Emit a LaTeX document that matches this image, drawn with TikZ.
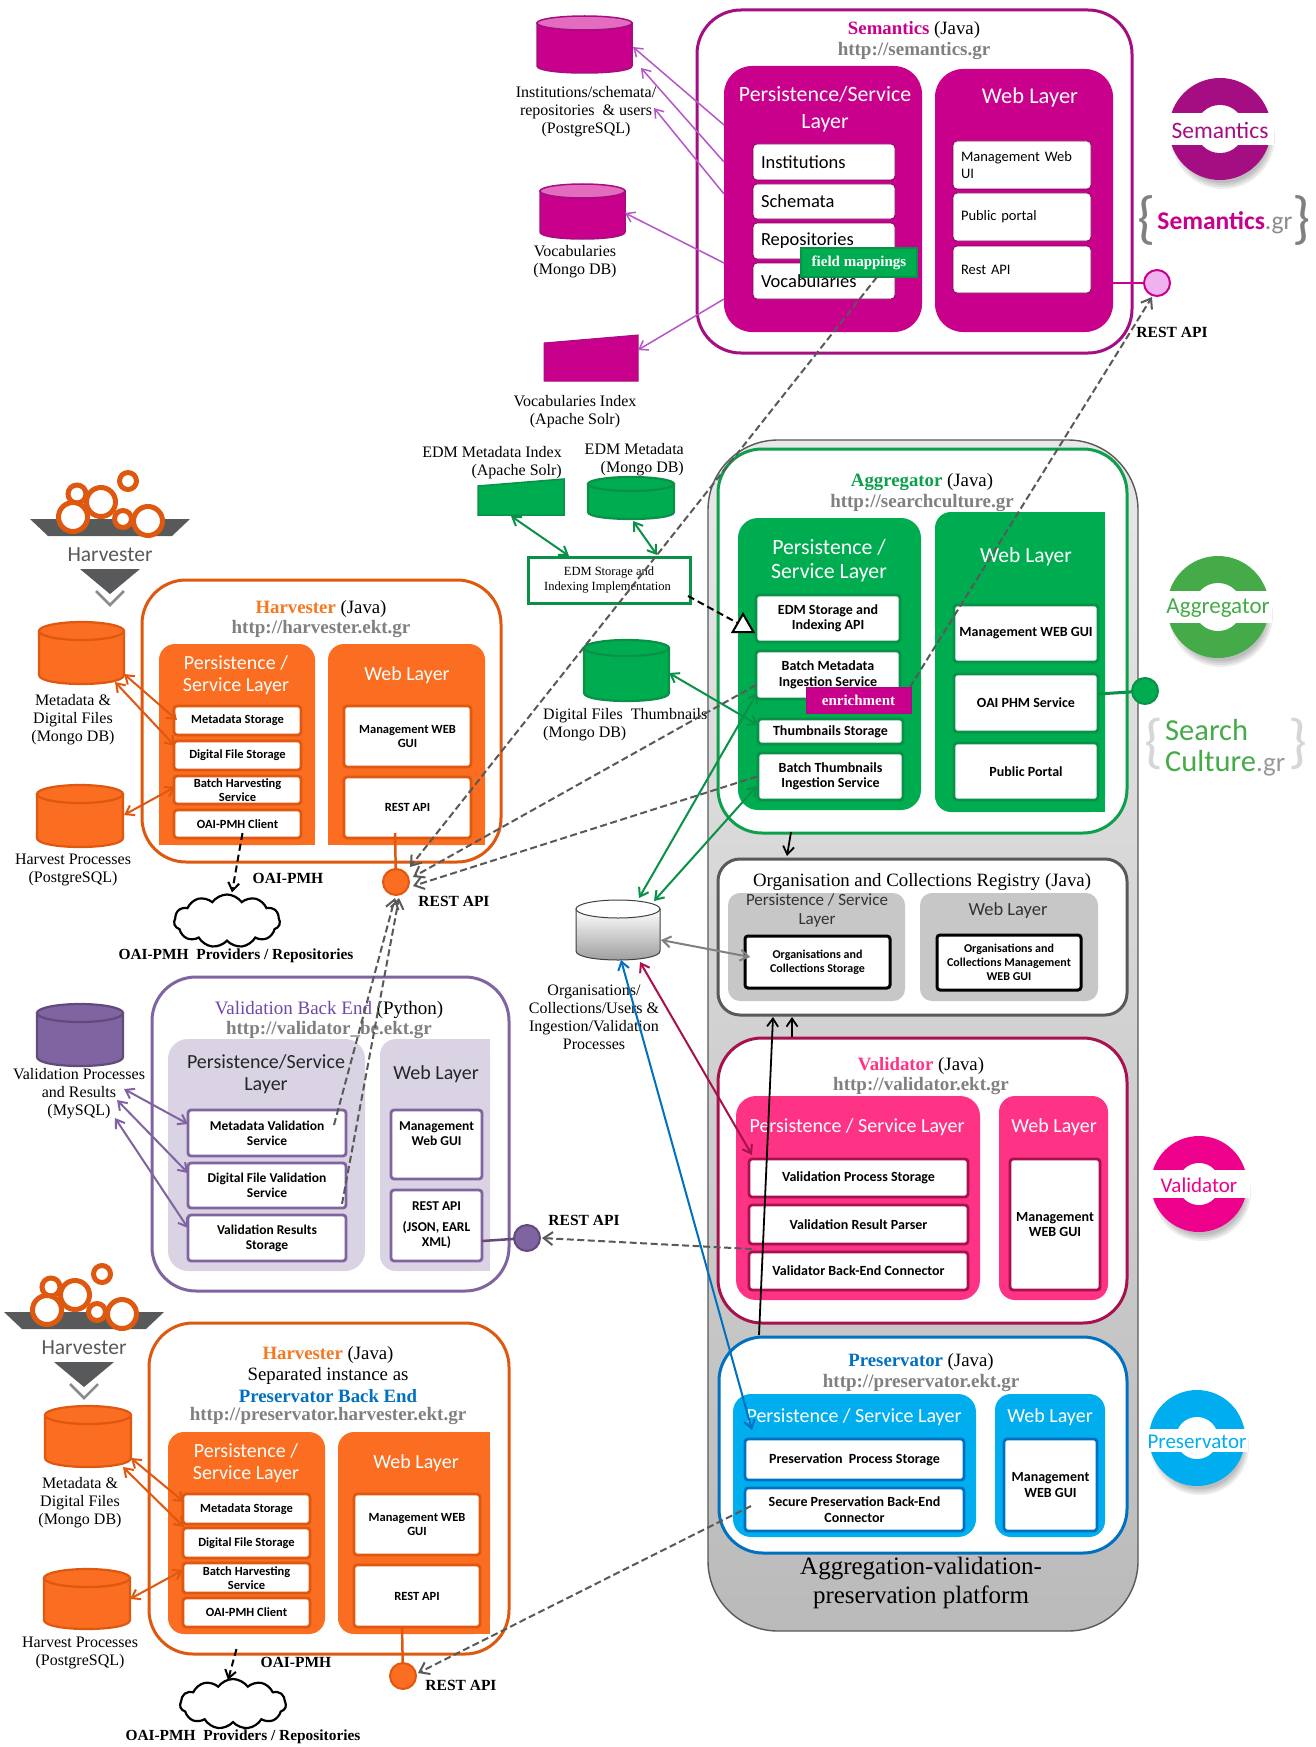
\documentclass[tikz,border=0pt]{standalone}
\usepackage{fontspec}
\setmainfont{Liberation Serif}
\newfontfamily\crl{Carlito}
\usetikzlibrary{arrows.meta,shapes.geometric,shapes.symbols}
\definecolor{semF}{HTML}{C8008C}\definecolor{semL}{HTML}{E36CBE}\definecolor{semA}{HTML}{B455C8}\definecolor{semO}{HTML}{A50E82}
\definecolor{grnF}{HTML}{00AC50}\definecolor{grnD}{HTML}{0A9148}\definecolor{grnT}{HTML}{0CA04C}\definecolor{grnLg}{HTML}{44AB48}
\definecolor{orgF}{HTML}{FB6D20}\definecolor{orgD}{HTML}{DF580F}\definecolor{orgT}{HTML}{F47920}
\definecolor{purF}{HTML}{8064A2}\definecolor{purL}{HTML}{D9D3E4}\definecolor{purT}{HTML}{7048A8}
\definecolor{valF}{HTML}{FF3385}\definecolor{valD}{HTML}{A8104E}\definecolor{valLgC}{HTML}{EC008C}
\definecolor{bluF}{HTML}{00AEEF}\definecolor{bluD}{HTML}{0070C0}
\definecolor{urlG}{HTML}{808080}\definecolor{dashG}{HTML}{595959}\definecolor{logoG}{HTML}{58595B}\definecolor{semBub}{HTML}{EFB2EF}
\newcommand\BX[7]{%
 \pgfmathsetmacro\bxw{#5-#3}\pgfmathsetmacro\bxh{#6-#4}\pgfmathsetmacro\bxx{(#3+#5)/2}\pgfmathsetmacro\bxy{(#4+#6)/2}%
 \node[#1,minimum width=\bxw pt,minimum height=\bxh pt] (#2) at (\bxx,\bxy) {#7};}
\newcommand\CYL[8]{%
 \BX{base}{#1}{#2}{#3}{#4}{#5}{}%
 \pgfmathsetmacro\cya{#3+#8}\pgfmathsetmacro\cyb{#5-#8}\pgfmathsetmacro\cyc{#5+#8/3}\pgfmathsetmacro\cxm{(#2+#4)/2}\pgfmathsetmacro\crx{(#4-#2)/2}%
 \path[#6] (#2,\cya) -- (#2,\cyb) .. controls (#2,\cyc) and (#4,\cyc) .. (#4,\cyb) -- (#4,\cya) -- cycle;
 \path[#7] (\cxm,\cya) ellipse (\crx pt and #8 pt);}
\newcommand\LOGO[9]{%
 \foreach \s in {0,2,4,6}{\fill[black,opacity=.07] (#2+3,#3+8) circle ({#4+1-\s});}
 \fill[#8] (#2,#3) circle (#4);
 \fill[white] (#2,#3) circle (#5);
 \fill[white] (#2-#4-3,#6) rectangle (#2+#4+3,#7);
 \pgfmathsetmacro\lgy{(#6+#7)/2}%
 \node[logotxt,text=#8] (#1) at (#2,\lgy) {#9};}
\newcommand\PT[3]{([xshift=#2,yshift={-(#3)}]#1)}
\newcommand\HARV[3]{%
 \begin{scope}[shift={(#1,#2)}]
 \fill[logoG] (30,519) -- (190,519) -- (172,536) -- (48,536) -- cycle;
 \draw[ring] (77,494) circle (9);
 \draw[ring] (128,481) circle (8.5);
 \draw[ring] (101,502) circle (14.5);
 \draw[ring] (73,517) circle (14.5);
 \draw[ring] (123,519) circle (8.5);
 \draw[ring] (148,521) circle (14.5);
 \node[font=\crl\fontsize{21.5}{23}\selectfont,text=logoG,inner sep=0] (#3) at (110,555) {Harvester};
 \fill[logoG] (80,569) -- (140,569) -- (110,594) -- cycle;
 \draw[logoG!70,line width=2.5pt] (96,591) -- (110,605) -- (124,591);
 \end{scope}}
\tikzset{
 base/.style={inner sep=0pt,outer sep=0pt,align=center},
 outerb/.style={base,draw=#1,line width=3pt,fill=white,rounded corners=44pt},
 layerb/.style={base,fill=#1,rounded corners=16pt},
 ibox/.style n args={3}{base,draw=#1,line width=2.8pt,fill=white,rounded corners=3pt,font=\crl\bfseries\fontsize{#2}{#3}\selectfont},
 sembox/.style={base,draw=semO!70!black,line width=.8pt,fill=white,rounded corners=4pt,align=left,inner xsep=8pt},
 ttl/.style={inner sep=0pt,align=center,yshift=-1.5pt,font=\fontsize{18.8}{21.5}\selectfont},
 urlt/.style={inner sep=0pt,text=urlG,yshift=-1pt,font=\bfseries\fontsize{19}{21}\selectfont},
 lbl/.style={inner sep=0pt,align=center,yshift=-1.5pt,font=\fontsize{16}{18}\selectfont},
 api/.style={inner sep=0pt,align=center,font=\bfseries\fontsize{15.5}{18}\selectfont},
 lay/.style n args={3}{inner sep=0pt,align=center,yshift=-1pt,text=#1,font=\crl\fontsize{#2}{#3}\selectfont},
 logotxt/.style={inner sep=0pt,yshift=-1pt,font=\crl\fontsize{21}{23}\selectfont},
 ring/.style={draw=orgD,line width=5pt,fill=white},
 conn/.style={line width=1.2pt,draw=#1},
 two/.style={line width=2pt,draw=#1,{Straight Barb[length=8pt,width=11pt]}-{Straight Barb[length=8pt,width=11pt]}},
 one/.style={line width=1.5pt,draw=#1,-{Straight Barb[length=8pt,width=11pt]}},
 dashg/.style={line width=2pt,draw=dashG,dash pattern=on 7pt off 3.5pt,-{Straight Barb[length=9pt,width=13pt]}},
 dashk/.style={line width=2pt,draw=black,dash pattern=on 7pt off 4pt},
 bub/.style n args={2}{base,circle,draw=#2,fill=#1,line width=2pt,minimum size=26pt},
}
\begin{document}
\begin{tikzpicture}[x=1pt,y=-1pt]
\useasboundingbox (0,0) rectangle (1315,1747);
\fill[white] (0,0) rectangle (1315,1747);
% ---------- platform
\BX{base,draw=dashG,line width=1.4pt,top color=black!9,bottom color=black!27,rounded corners=70pt}{plat}{708}{440}{1138}{1631}{}
\node[inner sep=0pt,align=center,font=\fontsize{25}{29}\selectfont] (platL) at (921,1583) {Aggregation-validation-\\preservation platform};
% ---------- Semantics
\BX{outerb=semO}{sem}{697}{10}{1132}{353}{}
\node[ttl] (semT) at (914,28) {{\bfseries\color{semF}Semantics} (Java)};
\node[urlt] (semU) at (914,50) {http://semantics.gr};
\BX{layerb=semF,rounded corners=28pt}{semP}{724}{66}{922}{332}{}
\BX{layerb=semF,rounded corners=28pt}{semW}{935}{69}{1113}{332}{}
\node[lay={white}{21.8}{27}] (semPl) at (825,108) {Persistence/Service\\Layer};
\node[lay={white}{22.5}{27}] (semWl) at (1030,97) {Web Layer};
\BX{sembox,text width=126pt,font=\crl\fontsize{18.5}{20}\selectfont}{sInst}{753}{144}{895}{180}{Institutions}
\BX{sembox,text width=126pt,font=\crl\fontsize{18.5}{20}\selectfont}{sSch}{753}{184}{895}{219}{Schemata}
\BX{sembox,text width=126pt,font=\crl\fontsize{18.5}{20}\selectfont}{sRep}{753}{223}{895}{259}{Repositories}
\BX{sembox,text width=126pt,font=\crl\fontsize{18.5}{20}\selectfont}{sVoc}{753}{263}{895}{299}{Vocabularies}
\BX{sembox,text width=122pt,font=\crl\fontsize{14.5}{17}\selectfont}{sMan}{953}{141}{1091}{189}{Management Web\\UI}
\BX{sembox,text width=122pt,font=\crl\fontsize{14.5}{17}\selectfont}{sPub}{953}{193}{1091}{241}{Public portal}
\BX{sembox,text width=122pt,font=\crl\fontsize{14.5}{17}\selectfont}{sRest}{953}{246}{1091}{293}{Rest API}
\BX{base,draw=grnD,line width=1.5pt,fill=grnF,text=white,font=\bfseries\fontsize{15}{17}\selectfont}{fieldM}{801}{248}{917}{277}{field mappings}
\node[bub={semBub}{semF}] (semC) at (1157,283) {};
\draw[conn=semF,line width=2.5pt] \PT{semW.east}{0}{82.5} -- (semC);
\CYL{instDB}{537}{16}{632}{73}{fill=semF,draw=semO,line width=1.5pt}{fill=semL,draw=semO,line width=1.5pt}{7}
\CYL{vocDB}{540}{184}{625}{239}{fill=semF,draw=semO,line width=1.5pt}{fill=semL,draw=semO,line width=1.5pt}{7}
\BX{base}{idxS}{544}{335}{638}{381}{}
\filldraw[fill=semF,draw=semO,line width=1pt] (544,343) -- (638,335) -- (638,381) -- (544,381) -- cycle;
\node[lbl] (instL) at (586,110) {Institutions/schemata/\\repositories \ \& users\\(PostgreSQL)};
\node[lbl] (vocL) at (575,260) {Vocabularies\\(Mongo DB)};
\node[lbl] (idxL) at (575,410) {Vocabularies Index\\(Apache Solr)};
\node[api] (semA) at (1172,332) {REST API};
\LOGO{semLg}{1220}{129}{51}{24}{113}{145}{semO}{\fontsize{23.5}{25}\selectfont Semantics}
\node[inner sep=0pt,text=black!50,font=\crl\fontsize{58}{60}\selectfont] (semB1) at (1147,220) {\makebox[0pt]{\{}};
\node[inner sep=0pt,text=black!50,font=\crl\fontsize{58}{60}\selectfont] (semB2) at (1302,220) {\makebox[0pt]{\}}};
\node[inner sep=0pt,font=\crl\fontsize{25.5}{27}\selectfont] (semGr) at (1225,223) {{\bfseries\color{semF}Semantics}{\color{black!45}.gr}};
% ---------- Aggregator
\BX{outerb=grnT}{agg}{718}{449}{1127}{833}{}
\node[ttl] (agT) at (922,481) {{\bfseries\color{grnT}Aggregator} (Java)};
\node[urlt] (agU) at (922,502) {http://searchculture.gr};
\BX{layerb=grnF,rounded corners=20pt}{agP}{738}{518}{921}{810}{}
\BX{layerb=grnF}{agW}{935}{512}{1105}{812}{}
\fill[grnF] (1020,512) rectangle (1105,812);
\node[lay={white}{21.8}{24}] (agPl) at (829,560) {Persistence /\\Service Layer};
\node[lay={white}{21.5}{24}] (agWl) at (1026,556) {Web Layer};
\BX{ibox={grnD}{14}{15.5}}{edmA}{756}{595}{900}{642}{EDM Storage and\\Indexing API}
\BX{ibox={grnD}{14}{15.5}}{batchM}{756}{651}{900}{699}{Batch Metadata\\Ingestion Service}
\BX{ibox={grnD}{14}{15.5}}{thumbS}{758}{719}{903}{744}{Thumbnails Storage}
\BX{ibox={grnD}{14}{15.5}}{batchT}{758}{753}{903}{800}{Batch Thumbnails\\Ingestion Service}
\BX{ibox={grnD}{14}{15.5}}{agM}{954}{605}{1098}{662}{Management WEB GUI}
\BX{ibox={grnD}{14}{15.5}}{agO}{954}{674}{1098}{732}{OAI PHM Service}
\BX{ibox={grnD}{14}{15.5}}{agPub}{954}{743}{1098}{800}{Public Portal}
\BX{base,fill=semF,draw=semO,line width=.6pt,text=white,font=\bfseries\fontsize{15}{17}\selectfont}{enrich}{806}{687}{911}{713}{enrichment}
\node[bub={grnF}{grnD}] (agC) at (1145,691) {};
\draw[conn=grnD,line width=3pt] \PT{agO.east}{0}{-9} -- (agC);
\BX{base}{edmI}{478}{479}{564}{515}{}
\filldraw[fill=grnF,draw=grnD,line width=1.5pt] (478,486) -- (564,479) -- (564,515) -- (478,515) -- cycle;
\CYL{edmM}{588}{477}{674}{519}{fill=grnF,draw=grnD,line width=2.2pt}{fill=grnF,draw=grnD,line width=2.2pt}{7}
\CYL{thumbDB}{584}{640}{669}{701}{fill=grnF,draw=grnD,line width=2.2pt}{fill=grnF,draw=grnD,line width=2.2pt}{8}
\BX{base,draw=grnD,line width=3pt,fill=white,font=\fontsize{12.5}{15}\selectfont}{edmS}{528}{557}{690}{603}{EDM Storage and\\Indexing Implementation\hspace*{3pt}}
\node[lbl,anchor=east,align=right] (edmIl) at (562,461) {EDM Metadata Index\\(Apache Solr)};
\node[lbl,anchor=east,align=right] (edmMl) at (684,458) {EDM Metadata\\(Mongo DB)};
\node[lbl,anchor=west,align=left] (thumbL) at (543,723) {Digital Files \ Thumbnails\\(Mongo DB)};
\LOGO{agLg}{1218}{607}{51}{24}{591}{623}{grnLg}{\fontsize{23}{25}\selectfont Aggregator}
\node[inner sep=0pt,text=black!16,font=\crl\fontsize{60}{62}\selectfont] (agB1) at (1154,744) {\makebox[0pt]{\{}};
\node[inner sep=0pt,text=black!16,font=\crl\fontsize{60}{62}\selectfont] (agB2) at (1298,744) {\makebox[0pt]{\}}};
\node[inner sep=0pt,anchor=west,align=left,text=grnLg,font=\crl\fontsize{30.5}{31}\selectfont] (agGr) at (1165,748) {Search\\Culture{\color{black!40}\fontsize{27}{31}\selectfont.gr}};
% ---------- Registry
\BX{outerb=dashG,rounded corners=22pt}{reg}{718}{859}{1127}{1015}{}
\node[ttl,font=\fontsize{18.8}{20}\selectfont] (regT) at (922,880) {Organisation and Collections Registry (Java)};
\BX{layerb=black!22,rounded corners=12pt}{regP}{728}{893}{905}{1001}{}
\BX{layerb=black!22,rounded corners=12pt}{regW}{920}{893}{1098}{1001}{}
\node[lay={black!80}{17}{19}] (regPl) at (817,909) {Persistence / Service\\Layer};
\node[lay={black!80}{18.5}{20}] (regWl) at (1008,910) {Web Layer};
\BX{ibox={black}{12}{14},line width=3pt}{orgS}{745}{936}{890}{988}{Organisations and\\Collections Storage}
\BX{ibox={black}{12}{14},line width=3pt}{orgW}{937}{935}{1081}{990}{Organisations and\\Collections Management\\WEB GUI}
% ---------- Validator
\BX{outerb=valD}{val}{718}{1038}{1127}{1323}{}
\node[ttl] (valT) at (921,1064) {{\bfseries\color{valF}Validator} (Java)};
\node[urlt] (valU) at (921,1085) {http://validator.ekt.gr};
\BX{layerb=valF,rounded corners=20pt}{valP}{736}{1096}{980}{1300}{}
\BX{layerb=valF}{valW}{999}{1096}{1108}{1300}{}
\node[lay={white}{20}{22}] (valPl) at (857,1126) {Persistence / Service Layer};
\node[lay={white}{20}{22}] (valWl) at (1054,1126) {Web Layer};
\BX{ibox={valD}{14}{15.5}}{vps}{749}{1159}{968}{1197}{Validation Process Storage}
\BX{ibox={valD}{14}{15.5}}{vrp}{749}{1205}{968}{1244}{Validation Result Parser}
\BX{ibox={valD}{14}{15.5}}{vbc}{749}{1252}{968}{1290}{Validator Back-End Connector}
\BX{ibox={valD}{14}{15.5}}{vmg}{1010}{1159}{1100}{1290}{Management\\WEB GUI}
\LOGO{valLg}{1199}{1184}{48}{21}{1170}{1198}{valLgC}{Validator}
% ---------- Preservator
\BX{outerb=bluD}{pre}{719}{1337}{1127}{1553}{}
\node[ttl] (preT) at (921,1360) {{\bfseries\color{bluD}Preservator} (Java)};
\node[urlt] (preU) at (921,1382) {http://preservator.ekt.gr};
\BX{layerb=bluF,rounded corners=18pt}{preP}{733}{1394}{976}{1537}{}
\BX{layerb=bluF}{preW}{995}{1394}{1105}{1537}{}
\node[lay={white}{20}{22}] (prePl) at (854,1416) {Persistence / Service Layer};
\node[lay={white}{20}{22}] (preWl) at (1050,1416) {Web Layer};
\BX{ibox={bluD}{14}{15.5}}{pps}{745}{1439}{964}{1480}{Preservation \ Process Storage}
\BX{ibox={bluD}{14}{15.5}}{secure}{745}{1488}{964}{1531}{Secure Preservation Back-End\\Connector}
\BX{ibox={bluD}{14}{15.5}}{pmg}{1004}{1439}{1097}{1531}{Management\\WEB GUI}
\LOGO{preLg}{1197}{1438}{48}{21}{1429}{1452}{bluF}{Preservator}
% ---------- registry DB
\CYL{regDB}{576}{900}{660}{960}{top color=white,bottom color=black!40,draw=black!75,line width=1pt}{fill=white,draw=black!75,line width=1pt}{9}
\node[lbl] (regL) at (594,1016) {Organisations/\\Collections/Users \&\\Ingestion/Validation\\Processes};
% ---------- Harvester 1
\HARV{0}{0}{harvLg}
\BX{outerb=orgD}{har}{142}{580}{501}{862}{}
\node[ttl] (harT) at (321,607) {{\bfseries\color{orgT}Harvester} (Java)};
\node[urlt] (harU) at (321,628) {http://harvester.ekt.gr};
\BX{layerb=orgF}{harP}{159}{644}{315}{845}{}
\fill[orgF] (159,700) rectangle (315,845);
\BX{layerb=orgF}{harW}{328}{644}{485}{845}{}
\fill[orgF] (328,700) rectangle (485,845);
\node[lay={white}{20}{22}] (harPl) at (236,674) {Persistence /\\Service Layer};
\node[lay={white}{20}{22}] (harWl) at (407,674) {Web Layer};
\BX{ibox={orgD}{12.5}{14}}{h1a}{174}{706}{301}{735}{Metadata Storage}
\BX{ibox={orgD}{12.5}{14}}{h1b}{174}{741}{301}{770}{Digital File Storage}
\BX{ibox={orgD}{12.5}{14}}{h1c}{174}{776}{301}{804}{Batch Harvesting\\Service}
\BX{ibox={orgD}{12.5}{14}}{h1d}{174}{810}{301}{838}{OAI-PMH Client}
\BX{ibox={orgD}{12.5}{14}}{h1m}{344}{706}{471}{767}{Management WEB\\GUI}
\BX{ibox={orgD}{12.5}{14}}{h1r}{344}{777}{471}{838}{REST API}
\node[bub={orgF}{orgD}] (harC) at (396,882) {};
\draw[conn=orgD,line width=2.5pt] \PT{h1r.south}{-12.5}{-5} -- (harC);
\CYL{hmDB}{39}{622}{124}{684}{fill=orgF,draw=orgD,line width=2.2pt}{fill=orgF,draw=orgD,line width=2.2pt}{9}
\CYL{hpDB}{37}{785}{123}{847}{fill=orgF,draw=orgD,line width=2.2pt}{fill=orgF,draw=orgD,line width=2.2pt}{9}
\node[lbl] (hmL) at (73,718) {Metadata \&\\Digital Files\\(Mongo DB)};
\node[lbl] (hpL) at (73,868) {Harvest Processes\\(PostgreSQL)};
\node[api] (harO) at (288,878) {OAI-PMH};
\node[api] (harA) at (454,901) {REST API};
\node[cloud,cloud puffs=11,cloud puff arc=110,aspect=2,draw=black,line width=2.2pt,fill=white,inner sep=0pt,minimum width=106pt,minimum height=53pt] (cloud1) at (227,921) {};
\node[api,font=\bfseries\fontsize{15.4}{17}\selectfont] (cloud1L) at (236,956) {OAI-PMH \ Providers / Repositories};
% ---------- Validation back end
\BX{outerb=purF}{vbe}{152}{977}{509}{1291}{}
\node[ttl,font=\fontsize{19}{21}\selectfont] (vbeT) at (329,1008) {{\color{purT}Validation Back End} (Python)};
\node[urlt] (vbeU) at (329,1029) {http://validator\_be.ekt.gr};
\BX{layerb=purL,rounded corners=20pt}{vbP}{168}{1039}{365}{1271}{}
\BX{layerb=purL}{vbW}{380}{1039}{490}{1271}{}
\fill[purL] (430,1039) rectangle (490,1271);
\node[lay={black!85}{20}{22}] (vbPl) at (266,1073) {Persistence/Service\\Layer};
\node[lay={black!85}{20}{22}] (vbWl) at (436,1073) {Web Layer};
\BX{ibox={purF}{13.5}{15}}{vm}{188}{1110}{346}{1156}{Metadata Validation\\Service}
\BX{ibox={purF}{13.5}{15}}{vd}{188}{1163}{346}{1208}{Digital File Validation\\Service}
\BX{ibox={purF}{13.5}{15}}{vr}{188}{1215}{346}{1261}{Validation Results\\Storage}
\BX{ibox={purF}{13.5}{15}}{vg}{391}{1110}{482}{1179}{Management\\Web GUI\\[6pt]~}
\BX{ibox={purF}{13.5}{15}}{vrest}{391}{1190}{482}{1261}{REST API\\[6pt](JSON, EARL\\XML)}
\node[bub={purF}{purF!75!black}] (valC) at (527,1238) {};
\draw[conn=purF!75!black,line width=2.5pt] \PT{vrest.east}{0}{15.5} -- (valC);
\CYL{vDB}{37}{1004}{123}{1066}{fill=purF,draw=purF!75!black,line width=2.2pt}{fill=purF,draw=purF!75!black,line width=2.2pt}{9}
\node[lbl] (vL) at (79,1092) {Validation Processes\\and Results\\(MySQL)};
\node[api] (vbA) at (584,1220) {REST API};
% ---------- Harvester 2
\HARV{-26}{793}{harvLg2}
\BX{outerb=orgD}{hb}{149}{1323}{509}{1654}{}
\node[ttl] (hbT) at (328,1373) {{\bfseries\color{orgT}Harvester} (Java)\\Separated instance as\\{\bfseries\color{bluD}Preservator Back End}};
\node[urlt] (hbU) at (328,1415) {http://preservator.harvester.ekt.gr};
\BX{layerb=orgF}{hbP}{168}{1432}{325}{1634}{}
\BX{layerb=orgF}{hbW}{338}{1432}{490}{1634}{}
\fill[orgF] (430,1432) rectangle (490,1634);
\node[lay={white}{20}{22}] (hbPl) at (246,1462) {Persistence /\\Service Layer};
\node[lay={white}{20}{22}] (hbWl) at (416,1462) {Web Layer};
\BX{ibox={orgD}{12.5}{14}}{h2a}{183}{1494}{310}{1524}{Metadata Storage}
\BX{ibox={orgD}{12.5}{14}}{h2b}{183}{1528}{310}{1558}{Digital File Storage}
\BX{ibox={orgD}{12.5}{14}}{h2c}{183}{1563}{310}{1593}{Batch Harvesting\\Service}
\BX{ibox={orgD}{12.5}{14}}{h2d}{183}{1598}{310}{1627}{OAI-PMH Client}
\BX{ibox={orgD}{12.5}{14}}{h2m}{354}{1494}{480}{1555}{Management WEB\\GUI}
\BX{ibox={orgD}{12.5}{14}}{h2r}{354}{1565}{480}{1627}{REST API}
\node[bub={orgF}{orgD}] (harC2) at (403,1676) {};
\draw[conn=orgD,line width=2.5pt] \PT{h2r.south}{-15}{0} -- (harC2);
\CYL{h2mDB}{45}{1406}{131}{1467}{fill=orgF,draw=orgD,line width=2.2pt}{fill=orgF,draw=orgD,line width=2.2pt}{9}
\CYL{h2pDB}{44}{1569}{130}{1629}{fill=orgF,draw=orgD,line width=2.2pt}{fill=orgF,draw=orgD,line width=2.2pt}{9}
\node[lbl] (h2mL) at (80,1501) {Metadata \&\\Digital Files\\(Mongo DB)};
\node[lbl] (h2pL) at (80,1651) {Harvest Processes\\(PostgreSQL)};
\node[api] (hbO) at (296,1662) {OAI-PMH};
\node[api] (hbA) at (461,1685) {REST API};
\node[cloud,cloud puffs=11,cloud puff arc=110,aspect=2,draw=black,line width=2.2pt,fill=white,inner sep=0pt,minimum width=106pt,minimum height=50pt] (cloud2) at (233,1704) {};
\node[api,font=\bfseries\fontsize{15.4}{17}\selectfont] (cloud2L) at (243,1737) {OAI-PMH \ Providers / Repositories};
% ---------- connectors: Semantics stores
\draw[one=semA] \PT{semP.west}{0}{-74} -- \PT{instDB.east}{1}{2.5};
\draw[one=semA] \PT{semP.west}{0}{-37} -- \PT{instDB.east}{9}{23.5};
\draw[one=semA] \PT{semP.west}{0}{-5} -- \PT{instDB.south east}{22}{35};
\draw[one=semA] \PT{semP.west}{0}{64} -- \PT{vocDB.east}{0}{1.5};
\draw[one=semA] \PT{semP.west}{0}{100} -- \PT{idxS.east}{0}{-8};
% aggregator
\draw[two=grnD] \PT{edmI.south}{-10}{1} -- \PT{edmS.north}{-40}{-1};
\draw[two=grnD] \PT{edmM.south}{2}{2} -- \PT{edmS.north}{48}{-2};
\draw[two=grnD] \PT{thumbDB.east}{0}{2.5} -- \PT{thumbS.west}{0}{-6.5};
\draw[two=grnD] \PT{regDB.north}{21}{-2} -- \PT{batchM.west}{1}{18};
\draw[two=grnD] \PT{regDB.north}{36}{1} -- \PT{batchT.west}{-1}{9.5};
\draw[two=black!50] \PT{regDB.east}{1}{10} -- \PT{orgS.west}{5}{-5};
\draw[two=valD] \PT{regDB.south}{22}{2} -- \PT{vps.north west}{3}{-4};
\draw[two=bluD] \PT{regDB.south}{3}{0} -- \PT{pps.north west}{7}{-9};
% black arrows
\draw[one=black,line width=1.8pt] \PT{agg.south}{-131.5}{-1} -- \PT{reg.north}{-135.5}{-3};
\draw[one=black,line width=1.8pt] \PT{pre.north}{-164}{-2} -- \PT{reg.south}{-149.5}{2};
\draw[one=black,line width=1.8pt] \PT{val.north}{-130.5}{-1} -- \PT{reg.south}{-130.5}{2};
% dashed
\node[regular polygon,regular polygon sides=3,draw=black,fill=white,line width=2pt,inner sep=0pt,minimum size=24pt] (triA) at (743,626) {};
\draw[dashk] \PT{edmS.east}{-2}{16} -- (triA);
\draw[dashg] \PT{fieldM.south}{18}{0} -- \PT{harC.center}{14}{-15};
\draw[dashg] \PT{batchM.west}{0}{10} -- \PT{harC.center}{17}{-5};
\draw[dashg] \PT{batchT.west}{-1}{0} -- \PT{harC.center}{17}{4};
\draw[dashg] \PT{enrich.north east}{-1}{0} -- \PT{semC.center}{-5}{14};
\draw[dashg] \PT{vm.east}{-12}{-8} -- \PT{harC.center}{-1}{16};
\draw[dashg] \PT{vd.east}{-4}{18.5} -- \PT{harC.center}{3}{16};
\draw[dashg] \PT{vbc.west}{3}{-22} -- \PT{valC.center}{15}{0};
\draw[dashg] \PT{secure.west}{6}{-3.5} -- \PT{harC2.center}{15}{-3};
\draw[dashk,-{Straight Barb[length=8pt,width=11pt]}] \PT{h1d.south}{5}{-5} -- \PT{cloud1.north}{5}{-1};
\draw[dashk,-{Straight Barb[length=8pt,width=11pt]}] \PT{h2d.south}{-10}{22} -- \PT{cloud2.north}{-5}{2};
% harvester stores
\draw[two=orgD] \PT{hmDB.east}{0}{21} -- \PT{h1a.west}{3}{-0.5};
\draw[two=orgD] \PT{hmDB.south}{33.5}{-2} -- \PT{h1b.west}{1}{-9.5};
\draw[two=orgD] \PT{hpDB.east}{1}{-1} -- \PT{h1c.west}{1}{-3};
\draw[two=orgD] \PT{h2mDB.east}{0}{21.5} -- \PT{h2a.west}{1}{-7};
\draw[two=orgD] \PT{h2mDB.south}{35}{0} -- \PT{h2b.west}{1}{-16};
\draw[two=orgD] \PT{h2pDB.east}{0}{0} -- \PT{h2c.west}{0}{-8};
% validation stores
\draw[two=purF] \PT{vDB.south}{44}{23} -- \PT{vm.west}{0}{-9};
\draw[two=purF] \PT{vDB.south}{37}{34} -- \PT{vd.west}{0}{-12.5};
\draw[two=purF] \PT{vDB.south}{35}{52} -- \PT{vr.west}{0}{-10};
\end{tikzpicture}
\end{document}
